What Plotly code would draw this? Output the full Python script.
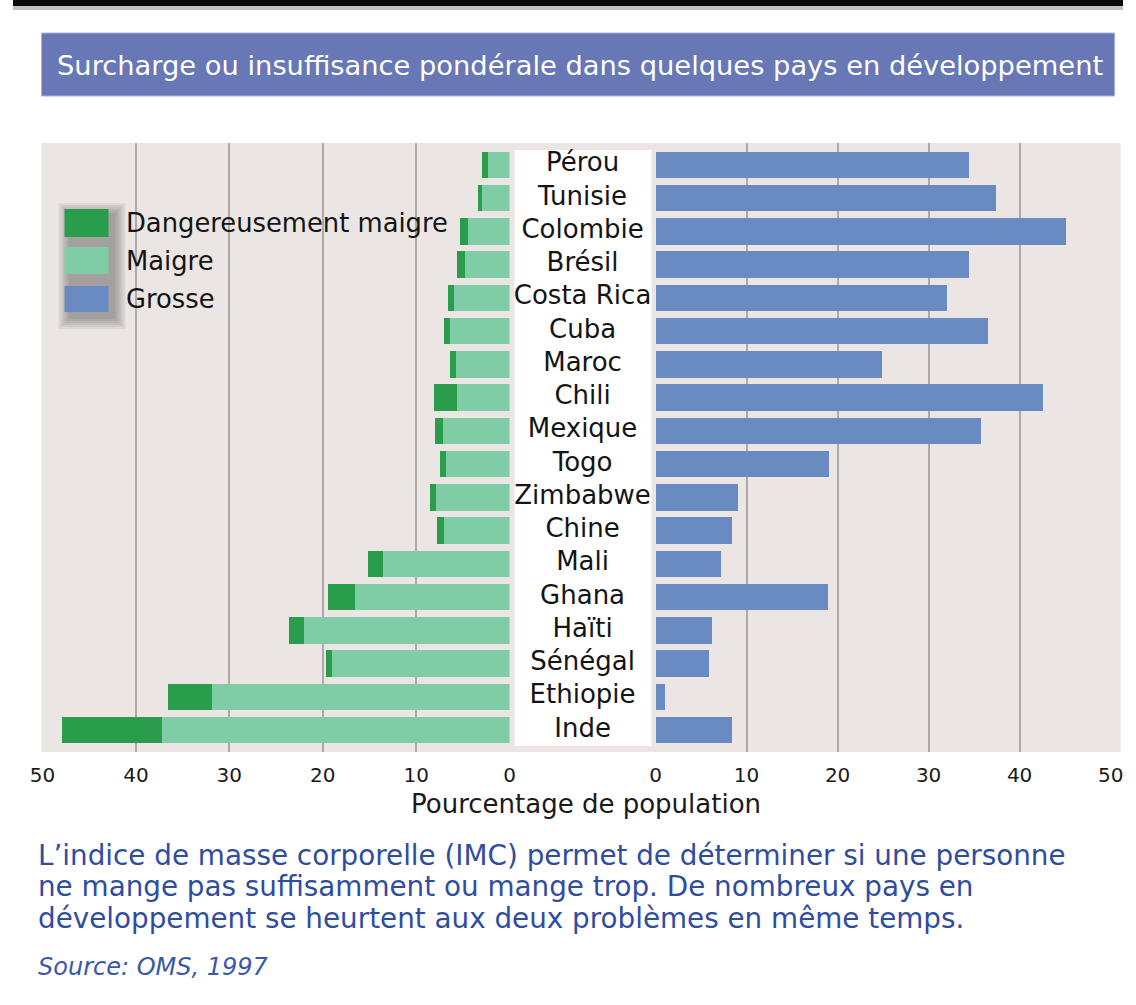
import plotly.graph_objects as go

W, H = 1136, 1005

# data (top to bottom)
countries = ['Pérou', 'Tunisie', 'Colombie', 'Brésil', 'Costa Rica', 'Cuba', 'Maroc', 'Chili',
             'Mexique', 'Togo', 'Zimbabwe', 'Chine', 'Mali', 'Ghana', 'Haïti', 'Sénégal',
             'Ethiopie', 'Inde']
maigre = [2.3, 2.9, 4.5, 4.8, 6.0, 6.4, 5.7, 5.6, 7.1, 6.8, 7.9, 7.0, 13.5, 16.5, 22.0, 19.0, 31.9, 37.2]
dangereux = [0.6, 0.5, 0.8, 0.8, 0.6, 0.65, 0.7, 2.5, 0.9, 0.7, 0.6, 0.8, 1.7, 2.9, 1.6, 0.6, 4.7, 10.7]
grosse = [34.4, 37.4, 45.1, 34.4, 32.0, 36.5, 24.9, 42.6, 35.8, 19.1, 9.1, 8.4, 7.2, 18.9, 6.2, 5.9, 1.0, 8.4]
ticks = [0, 10, 20, 30, 40, 50]

DARK = '#2a9d4d'
LIGHT = '#80cca6'
BLUE = '#6a8bc1'
BG = '#ebe6e3'
GRID = '#aea9a6'
TXT_BLUE = '#2f4d9f'
FONT = 'DejaVu Sans'

# the captured page comes out shifted / slightly squeezed horizontally,
# so horizontal positions (in target pixels) are corrected here
X_OFF, X_SCALE = 12.5, 0.977


def px(x):
    return (x - X_OFF) / X_SCALE / W


def py(y):
    return 1 - y / H


fig = go.Figure()

fig.add_trace(go.Bar(y=countries, x=maigre, orientation='h', marker=dict(color=LIGHT, line_width=0),
                     width=0.8, xaxis='x', yaxis='y', name='Maigre'))
fig.add_trace(go.Bar(y=countries, x=dangereux, orientation='h', marker=dict(color=DARK, line_width=0),
                     width=0.8, xaxis='x', yaxis='y', name='Dangereusement maigre'))
fig.add_trace(go.Bar(y=countries, x=grosse, orientation='h', marker=dict(color=BLUE, line_width=0),
                     width=0.8, xaxis='x2', yaxis='y', name='Grosse'))
# country names in the middle column
fig.add_trace(go.Scatter(y=countries, x=[0] * len(countries), mode='text', text=countries,
                         textfont=dict(family=FONT, size=26, color='#141414'),
                         xaxis='x3', yaxis='y', hoverinfo='skip'))

axis_common = dict(tickvals=ticks, ticktext=[str(t) for t in ticks], showgrid=False, zeroline=False,
                   showline=False, ticks='', tickfont=dict(family=FONT, size=20, color='#1a1a1a'),
                   ticklabelstandoff=9,
                   minor=dict(tickvals=[10, 20, 30, 40], showgrid=True, gridcolor=GRID, gridwidth=2),
                   fixedrange=True)

fig.update_layout(
    width=W, height=H,
    margin=dict(l=0, r=0, t=0, b=0),
    paper_bgcolor='white',
    plot_bgcolor='rgba(0,0,0,0)',
    barmode='stack',
    bargap=0.2,
    showlegend=False,
    xaxis=dict(domain=[px(42), px(509)], range=[50, 0], anchor='y', **axis_common),
    xaxis2=dict(domain=[px(655), px(1110)], range=[0, 50], anchor='y', **axis_common),
    xaxis3=dict(domain=[px(513), px(651)], range=[-1, 1], anchor='y', visible=False),
    yaxis=dict(domain=[py(752), py(143)], range=[17.66, -0.66], type='category',
               showticklabels=False, showgrid=False, zeroline=False, ticks=''),
)

shapes = []
# top frame edge
shapes.append(dict(type='rect', xref='paper', yref='paper', x0=0, x1=1, y0=py(6), y1=1,
                   fillcolor='#0a0a0a', line_width=0))
shapes.append(dict(type='rect', xref='paper', yref='paper', x0=0, x1=1, y0=py(10), y1=py(6),
                   fillcolor='#c2c2c2', line_width=0))
# title banner
shapes.append(dict(type='rect', xref='paper', yref='paper', x0=px(41), x1=px(1114), y0=py(96), y1=py(33),
                   fillcolor='#6878b6', line=dict(color='#aab3d8', width=1)))
# chart background and label column
shapes.append(dict(type='rect', xref='paper', yref='paper', x0=px(41), x1=px(1120), y0=py(752), y1=py(143),
                   fillcolor=BG, line_width=0, layer='below'))
shapes.append(dict(type='rect', xref='paper', yref='paper', x0=px(514), x1=px(651), y0=py(746), y1=py(150),
                   fillcolor='white', line_width=0, layer='below'))

# legend with soft drop shadow
for g in range(0, 12, 2):
    shapes.append(dict(type='rect', xref='paper', yref='paper',
                       x0=px(68 - g), x1=px(115 + g), y0=py(319 + g), y1=py(213 - g),
                       fillcolor='rgba(30,30,30,0.065)', line_width=0))
legend_items = [('Dangereusement maigre', DARK, 209, 237), ('Maigre', LIGHT, 247, 274), ('Grosse', BLUE, 286, 312)]
for name, col, y0, y1 in legend_items:
    shapes.append(dict(type='rect', xref='paper', yref='paper', x0=px(64), x1=px(108), y0=py(y1), y1=py(y0),
                       fillcolor=col, line_width=0))

fig.update_layout(shapes=shapes)

footer = ["L’indice de masse corporelle (IMC) permet de déterminer si une personne",
          "ne mange pas suffisamment ou mange trop. De nombreux pays en",
          "développement se heurtent aux deux problèmes en même temps."]

annotations = [
    dict(x=px(579), y=py(65), text='Surcharge ou insuffisance pondérale dans quelques pays en développement',
         font=dict(family=FONT, size=27.3, color='white')),
    dict(x=px(585), y=py(804), text='Pourcentage de population',
         font=dict(family=FONT, size=26, color='#1a1a1a')),
    dict(x=px(35), y=py(967), xanchor='left', text='<i>Source: OMS, 1997</i>',
         font=dict(family=FONT, size=24, color='#3a58a6')),
]
for i, line in enumerate(footer):
    annotations.append(dict(x=px(35), y=py(855 + i * 31.5), xanchor='left', text=line,
                            font=dict(family=FONT, size=27.8, color=TXT_BLUE)))
for name, col, y0, y1 in legend_items:
    annotations.append(dict(x=px(123), y=py((y0 + y1) / 2), xanchor='left', text=name,
                            font=dict(family=FONT, size=25.8, color='#141414')))
for a in annotations:
    a.setdefault('xref', 'paper')
    a.setdefault('yref', 'paper')
    a.setdefault('yanchor', 'middle')
    a.setdefault('showarrow', False)
fig.update_layout(annotations=annotations)

fig.write_html("out.html", config={'displayModeBar': False},
               post_script="document.documentElement.style.overflow='hidden';"
                           "document.body.style.margin='0px';document.body.style.overflow='hidden';")
